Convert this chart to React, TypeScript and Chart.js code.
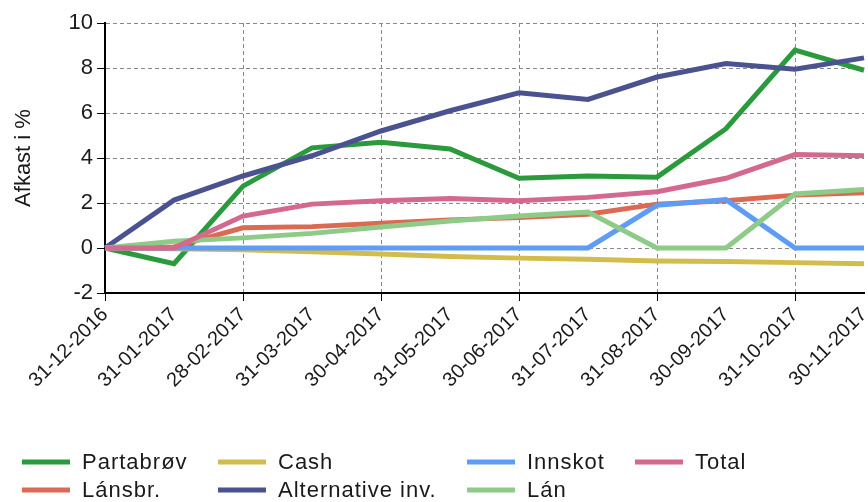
import React, { useEffect, useRef } from 'react';
import { Chart, registerables } from 'chart.js';

Chart.register(...registerables);

const categories = ['31-12-2016', '31-01-2017', '28-02-2017', '31-03-2017', '30-04-2017', '31-05-2017', '30-06-2017', '31-07-2017', '31-08-2017', '30-09-2017', '31-10-2017', '30-11-2017'];
const partabrov = [0, -0.7, 2.75, 4.45, 4.7, 4.4, 3.1, 3.2, 3.15, 5.3, 8.8, 7.9];
const lansbr = [0, 0.05, 0.9, 0.95, 1.1, 1.25, 1.35, 1.5, 1.95, 2.1, 2.35, 2.45];
const cash = [0, -0.03, -0.08, -0.17, -0.27, -0.38, -0.45, -0.5, -0.58, -0.6, -0.65, -0.7];
const alternative = [0, 2.13, 3.2, 4.1, 5.2, 6.1, 6.9, 6.6, 7.6, 8.2, 7.95, 8.45];
const innskot = [0, 0, 0, 0, 0, 0, 0, 0, 1.9, 2.15, 0, 0];
const lan = [0, 0.3, 0.45, 0.65, 0.93, 1.2, 1.42, 1.6, 0, 0, 2.4, 2.6];
const total = [0, 0, 1.42, 1.95, 2.1, 2.2, 2.1, 2.25, 2.5, 3.1, 4.15, 4.1];

const seriesNames = ['Partabrøv', 'Lánsbr.', 'Cash', 'Alternative inv.', 'Innskot', 'Lán', 'Total'];
const seriesValues = [partabrov, lansbr, cash, alternative, innskot, lan, total];
const seriesColors = ['#2a9a3c', '#dc6a52', '#d2bc4c', '#4a5290', '#5f9cf6', '#8ecb88', '#d4688e'];

const yMin = -2;
const yMax = 10;
const yStep = 2;
const yTitle = 'Afkast i %';

const FONT = '"Liberation Sans", Arial, sans-serif';

const legendPlugin = {
  id: 'gridLegend',
  afterDraw(chart: any) {
    const ctx = chart.ctx;
    const colX = [22, 218, 467, 635];
    const rowY = [462, 490];
    ctx.save();
    ctx.font = `22px ${FONT}`;
    (ctx as any).letterSpacing = '1px';
    ctx.textBaseline = 'middle';
    ctx.textAlign = 'left';
    chart.data.datasets.forEach((ds: any, i: number) => {
      const col = Math.floor(i / 2);
      const row = i % 2;
      const x = colX[col];
      const y = rowY[row];
      ctx.strokeStyle = ds.borderColor;
      ctx.lineWidth = 5;
      ctx.beginPath();
      ctx.moveTo(x, y);
      ctx.lineTo(x + 48, y);
      ctx.stroke();
      ctx.fillStyle = '#1a1a1a';
      ctx.fillText(ds.label, x + 60, y + 1);
    });
    ctx.restore();
  },
};

export default function App() {
  const ref = useRef<HTMLCanvasElement | null>(null);
  useEffect(() => {
    if (!ref.current) return;
    const chart = new Chart(ref.current, {
      type: 'line',
      data: {
        labels: categories,
        datasets: seriesNames.map((name, i) => ({
          label: name,
          data: seriesValues[i],
          borderColor: seriesColors[i],
          backgroundColor: seriesColors[i],
          borderWidth: 5,
          pointRadius: 0,
          tension: 0,
          fill: false,
          order: seriesNames.length - i,
        })),
      },
      options: {
        animation: false,
        responsive: false,
        devicePixelRatio: 1,
        layout: { padding: { top: 23, left: 0, right: 4, bottom: 99 } },
        plugins: { legend: { display: false }, tooltip: { enabled: false } },
        scales: {
          x: {
            offset: false,
            afterFit: (s: any) => { s.height = 110; s.paddingRight = 0; s.paddingLeft = 0; },
            grid: {
              color: (c: any) => (c.index % 2 === 0 ? '#888888' : 'rgba(0,0,0,0)'),
              tickColor: (c: any) => (c.index % 2 === 0 ? '#000' : 'rgba(0,0,0,0)'),
              tickLength: 8,
              lineWidth: 1,
            },
            border: { display: true, color: '#000', width: 2, dash: [4, 3] },
            ticks: {
              autoSkip: false,
              maxRotation: 45,
              minRotation: 45,
              color: '#1a1a1a',
              font: { family: FONT, size: 20 },
              padding: 2,
            },
          },
          y: {
            min: yMin,
            max: yMax,
            afterFit: (s: any) => { s.width = 105; },
            grid: { color: '#888888', tickColor: '#000', tickLength: 8, lineWidth: 1 },
            border: { display: true, color: '#000', width: 2, dash: [4, 3] },
            ticks: {
              stepSize: yStep,
              color: '#1a1a1a',
              font: { family: FONT, size: 22 },
              padding: 4,
            },
            title: {
              display: true,
              text: yTitle,
              color: '#1a1a1a',
              font: { family: FONT, size: 22 },
              padding: { top: 11, bottom: 0 },
            },
          },
        },
      },
      plugins: [legendPlugin],
    });
    return () => chart.destroy();
  }, []);
  return (
    <div style={{ position: 'absolute', left: 0, top: 0, width: 868, height: 502, background: '#fff' }}>
      <canvas ref={ref} width={868} height={502} style={{ display: 'block' }} />
    </div>
  );
}
